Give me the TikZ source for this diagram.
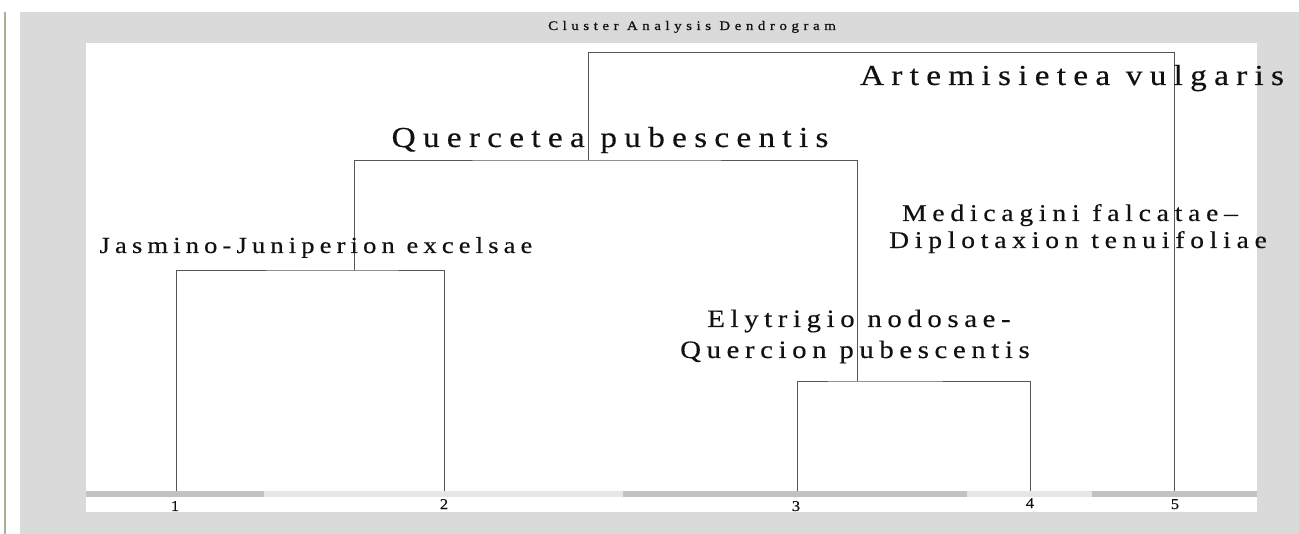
\documentclass[tikz,border=0pt]{standalone}
\usepackage{fontspec}
\setmainfont{Liberation Serif}
\newfontfamily\bigfont[LetterSpace=25,FakeStretch=1.15,FakeBold=0.4]{Liberation Serif}
\newfontfamily\midfont[LetterSpace=24,FakeStretch=1.15,FakeBold=0.4]{Liberation Serif}
\newfontfamily\elyfont[LetterSpace=22.5,FakeStretch=1.15,FakeBold=0.4]{Liberation Serif}
\newfontfamily\jasfont[LetterSpace=22.5,FakeStretch=1.15,FakeBold=0.4]{Liberation Serif}
\newfontfamily\titlefont[LetterSpace=35,FakeStretch=1.15,FakeBold=0.8]{Liberation Serif}
\newfontfamily\numfont[FakeStretch=1.1,FakeBold=0.4]{Liberation Serif}
\definecolor{bggray}{HTML}{DADADA}
\definecolor{bardark}{HTML}{C2C2C2}
\definecolor{barlight}{HTML}{E6E6E6}
\definecolor{edgeline}{HTML}{A8B096}
\definecolor{treeline}{HTML}{555555}
\definecolor{textcol}{HTML}{111111}
\tikzset{
  tree/.style={draw=treeline, line width=0.9pt},
  biglabel/.style={anchor=base, inner sep=0pt, text=textcol, font=\bigfont\fontsize{29}{32}\selectfont},
  midlabel/.style={anchor=base, inner sep=0pt, text=textcol, font=\midfont\fontsize{24}{27}\selectfont},
  elylabel/.style={anchor=base, inner sep=0pt, text=textcol, font=\elyfont\fontsize{25}{28}\selectfont},
  jaslabel/.style={anchor=base, inner sep=0pt, text=textcol, font=\jasfont\fontsize{23}{26}\selectfont},
  leaflabel/.style={anchor=base, inner sep=0pt, text=textcol, font=\numfont\fontsize{15}{15}\selectfont},
  titlelabel/.style={anchor=base, inner sep=0pt, text=textcol, font=\titlefont\fontsize{13}{13}\selectfont}
}
\begin{document}
\begin{tikzpicture}[x=1pt,y=-1pt]
\useasboundingbox (0,0) rectangle (1299,534);
\fill[white] (0,0) rectangle (1299,534);
\fill[bggray] (20,12) rectangle (1299,534);
\draw[edgeline, line width=2pt] (4.5,12) -- (4.5,534);
\fill[white] (86,43) rectangle (1257,512);
% bar segments
\fill[bardark] (86,491) rectangle (264,497);
\fill[barlight] (264,491) rectangle (623,497);
\fill[bardark] (623,491) rectangle (967,497);
\fill[barlight] (967,491) rectangle (1092,497);
\fill[bardark] (1092,491) rectangle (1257,497);
% title
\node[titlelabel] (title) at (692,30) {Cluster Analysis Dendrogram};
% leaves
\coordinate (L1) at (176,491);
\coordinate (L2) at (444,491);
\coordinate (L3) at (797,491);
\coordinate (L4) at (1030,491);
\coordinate (L5) at (1174,491);
\coordinate (h12) at (354,270);
\coordinate (h34) at (857,381);
\coordinate (k) at (588,160);
\coordinate (top) at (588,52);
\draw[tree] (L1) |- (h12) -| (L2);
\draw[tree] (L3) |- (h34) -| (L4);
\draw[tree] (h12) |- (k) -| (h34);
\draw[tree] (k) -- (top) -| (L5);
% leaf numbers
\node[leaflabel] (n1) at (175,511) {1};
\node[leaflabel] (n2) at (444,509) {2};
\node[leaflabel] (n3) at (796,511) {3};
\node[leaflabel] (n4) at (1030,508) {4};
\node[leaflabel] (n5) at (1175,509) {5};
% cluster labels
\node[biglabel] (art) at (1072,85) {Artemisietea vulgaris};
\node[biglabel] (que) at (610,147) {Quercetea pubescentis};
\node[jaslabel] (jas) at (316,253) {Jasmino-Juniperion excelsae};
\node[midlabel] (med1) at (1070,221) {Medicagini falcatae–};
\node[midlabel] (med2) at (1078,248) {Diplotaxion tenuifoliae};
\node[elylabel] (ely1) at (859,327) {Elytrigio nodosae-};
\node[elylabel] (ely2) at (855,358) {Quercion pubescentis};
\end{tikzpicture}
\end{document}
